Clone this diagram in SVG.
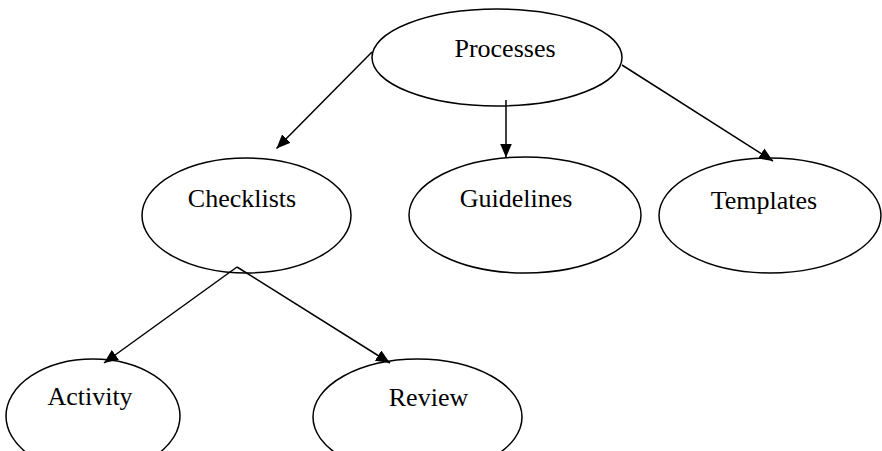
<svg xmlns="http://www.w3.org/2000/svg" width="882" height="451" viewBox="0 0 882 451">
<defs>
<style>
.node ellipse { fill: #ffffff; stroke: #000000; stroke-width: 1.5; }
.node text { font-family: "Liberation Serif", "Times New Roman", serif; font-size: 26px; fill: #000000; text-anchor: middle; }
.edge { stroke: #000000; stroke-width: 1.5; fill: none; marker-end: url(#arrow); }
</style>
<marker id="arrow" viewBox="0 0 14 12" refX="14" refY="6" markerWidth="14" markerHeight="12" markerUnits="userSpaceOnUse" orient="auto">
<path d="M0,0 L14,6 L0,12 Z" fill="#000000"/>
</marker>
</defs>
<rect width="882" height="451" fill="#ffffff"/>
<g id="node-processes" class="node">
<ellipse cx="497" cy="57.5" rx="125" ry="48.5"/>
<text x="505" y="57">Processes</text>
</g>
<g id="node-checklists" class="node">
<ellipse cx="246.5" cy="215.5" rx="104.5" ry="57.5"/>
<text x="242" y="207">Checklists</text>
</g>
<g id="node-guidelines" class="node">
<ellipse cx="525" cy="215" rx="116" ry="58"/>
<text x="516" y="207">Guidelines</text>
</g>
<g id="node-templates" class="node">
<ellipse cx="770" cy="215.5" rx="111" ry="57.5"/>
<text x="764" y="209">Templates</text>
</g>
<g id="node-activity" class="node">
<ellipse cx="93" cy="416" rx="87" ry="57"/>
<text x="90" y="405">Activity</text>
</g>
<g id="node-review" class="node">
<ellipse cx="417.5" cy="417" rx="104.5" ry="58"/>
<text x="428.5" y="406">Review</text>
</g>
<g id="connectors">
<line class="edge" x1="372" y1="52" x2="276.5" y2="148.5"/>
<line class="edge" x1="506" y1="100" x2="506" y2="157.5"/>
<line class="edge" x1="622" y1="65" x2="773" y2="161"/>
<line class="edge" x1="237" y1="267" x2="104" y2="363"/>
<line class="edge" x1="237" y1="267" x2="390" y2="363"/>
</g>
</svg>
